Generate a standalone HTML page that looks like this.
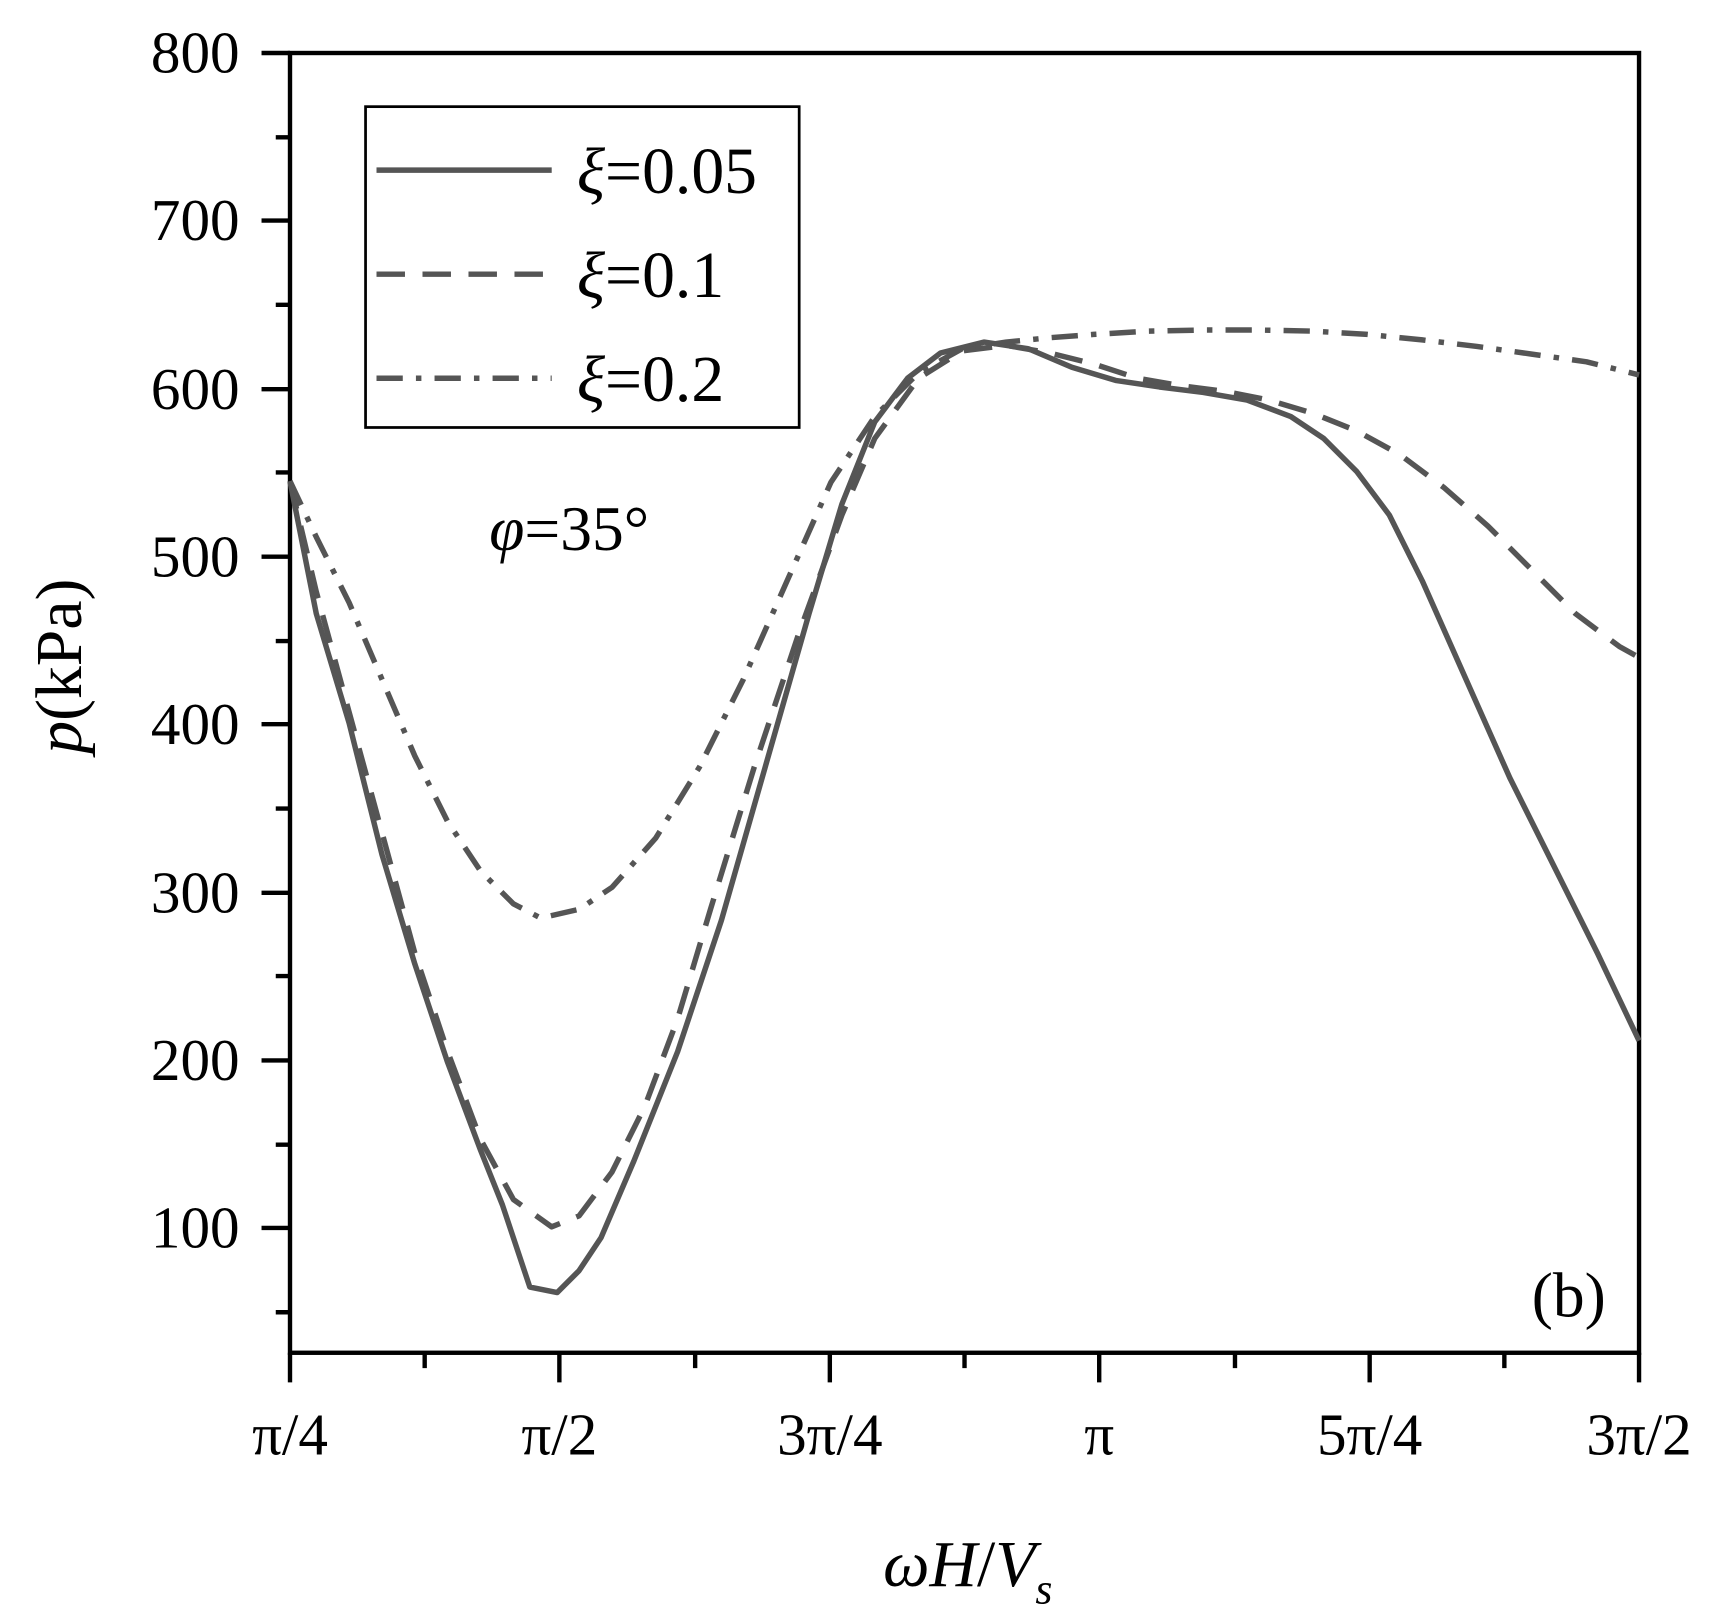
<!DOCTYPE html>
<html><head><meta charset="utf-8"><style>html,body{margin:0;padding:0;background:#fff}svg{display:block}</style></head><body>
<svg width="1714" height="1610" viewBox="0 0 1714 1610" xmlns="http://www.w3.org/2000/svg">
<rect width="1714" height="1610" fill="#fff"/>
<g transform="translate(-1.27,0.44) scale(1.095)" font-family="Liberation Serif, serif" fill="#000">
<g stroke="#000" stroke-width="4" fill="none">
<rect x="266" y="48" width="1232" height="1187"/>
<path d="M240 48H266M240 201H266M240 355H266M240 508H266M240 661H266M240 815H266M240 968H266M240 1121H266"/>
<path d="M253 125H266M253 278H266M253 431H266M253 585H266M253 738H266M253 891H266M253 1045H266M253 1198H266"/>
<path d="M266 1235V1262M512 1235V1262M759 1235V1262M1005 1235V1262M1252 1235V1262M1498 1235V1262"/>
<path d="M389 1235V1249M636 1235V1249M882 1235V1249M1129 1235V1249M1375 1235V1249"/>
</g>
<g font-size="54" text-anchor="end">
<text x="220" y="66">800</text><text x="220" y="219">700</text><text x="220" y="373">600</text><text x="220" y="526">500</text><text x="220" y="679">400</text><text x="220" y="833">300</text><text x="220" y="986">200</text><text x="220" y="1139">100</text>
</g>
<g font-size="54" text-anchor="middle">
<text x="266" y="1328">π/4</text><text x="512" y="1328">π/2</text><text x="759" y="1328">3π/4</text><text x="1005" y="1328">π</text><text x="1252" y="1328">5π/4</text><text x="1498" y="1328">3π/2</text>
</g>
<text x="885" y="1448" font-size="60" text-anchor="middle"><tspan font-style="italic">ωH</tspan>/<tspan font-style="italic">V</tspan><tspan font-style="italic" font-size="40" dy="16">s</tspan></text>
<text transform="translate(75,608) rotate(-90)" font-size="60" text-anchor="middle"><tspan font-style="italic">p</tspan>(kPa)</text>
<text x="448" y="502" font-size="58"><tspan font-style="italic">φ</tspan>=35°</text>
<text x="1400" y="1202" font-size="58">(b)</text>
<g fill="none" stroke="#555" stroke-width="5" stroke-linejoin="round">
<polyline points="266,439 290,560 320,660 350,780 380,880 410,970 440,1050 460,1100 485,1175 510,1180 530,1160 550,1130 580,1060 620,960 660,840 700,700 740,560 770,460 800,385 830,345 860,322 900,312 940,318 980,335 1020,347 1060,353 1100,358 1140,365 1180,380 1210,400 1240,430 1270,470 1300,530 1340,620 1380,710 1420,790 1460,870 1498,950"/>
<polyline stroke-dasharray="26,16" points="266,439 290,540 320,650 350,760 380,870 410,960 440,1040 470,1095 505,1120 530,1110 560,1070 590,1010 620,930 650,830 690,700 730,580 770,470 800,400 840,345 880,320 920,315 960,322 1000,332 1040,345 1080,352 1120,357 1160,365 1200,377 1240,393 1280,415 1320,445 1360,480 1400,520 1440,560 1480,590 1498,600"/>
<polyline stroke-dasharray="24,12,5,12" points="266,439 290,490 320,550 350,620 380,690 410,750 440,795 470,825 495,838 530,830 560,810 600,765 640,700 680,620 720,530 760,440 800,380 840,340 880,318 920,312 960,308 1000,305 1050,302 1100,301 1150,301 1200,302 1250,305 1300,310 1350,316 1400,323 1450,330 1498,342"/>
</g>
<rect x="335" y="97" width="396" height="293" fill="#fff" stroke="#000" stroke-width="2.5"/>
<g stroke="#555" stroke-width="5">
<line x1="345" y1="155" x2="505" y2="155"/>
<line x1="345" y1="250" x2="505" y2="250" stroke-dasharray="26,16"/>
<line x1="345" y1="345" x2="505" y2="345" stroke-dasharray="24,12,5,12"/>
</g>
<g font-size="60">
<text x="528" y="176"><tspan font-style="italic">ξ</tspan>=0.05</text>
<text x="528" y="271"><tspan font-style="italic">ξ</tspan>=0.1</text>
<text x="528" y="366"><tspan font-style="italic">ξ</tspan>=0.2</text>
</g>
</g>
</svg>
</body></html>
